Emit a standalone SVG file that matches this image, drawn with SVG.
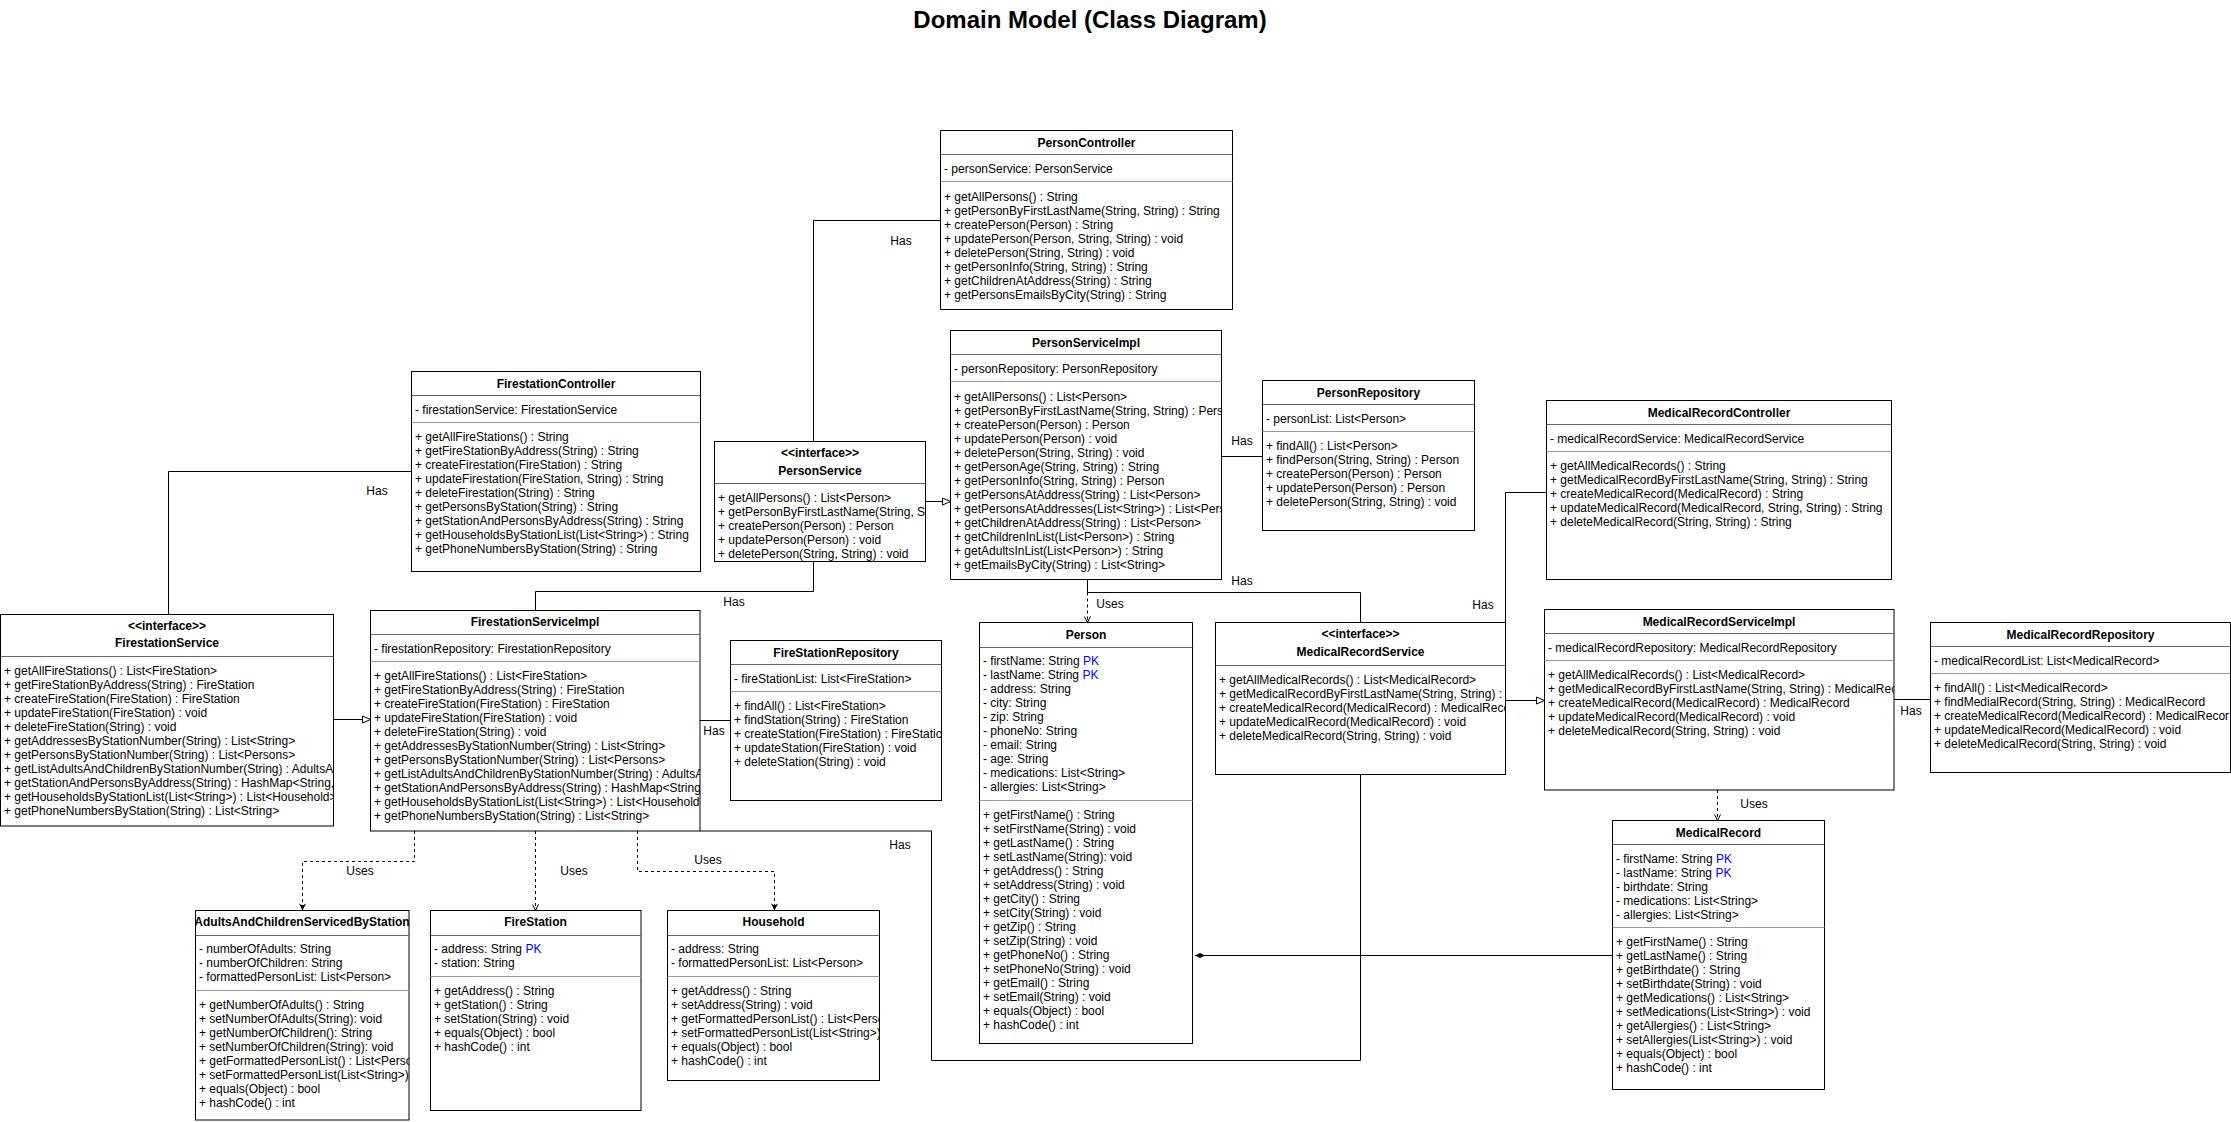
<svg xmlns="http://www.w3.org/2000/svg" width="2231" height="1122" viewBox="0 0 2231 1122">
<style>
.box{fill:#fff;stroke:#000;stroke-width:1}
.hd{stroke:#666;stroke-width:1}
.dv{stroke:#999;stroke-width:1}
text{font-family:"Liberation Sans",Arial,Helvetica,sans-serif;font-size:12px;fill:#000}
.b{font-weight:bold}
.c{text-anchor:middle}
.pk{fill:#0000ff}
.ln{fill:none;stroke:#000;stroke-width:1}
.ds{stroke-dasharray:3 3}
.ttl{font-size:24px;font-weight:bold}
</style>
<defs>
<marker id="tri" markerUnits="userSpaceOnUse" markerWidth="10" markerHeight="10" viewBox="0 0 10 10" refX="9" refY="5" orient="auto"><path d="M1,1.5 L9,5 L1,8.5 z" fill="#fff" stroke="#000" stroke-width="1"/></marker>
<marker id="opn" markerUnits="userSpaceOnUse" markerWidth="10" markerHeight="10" viewBox="0 0 10 10" refX="9" refY="5" orient="auto"><path d="M3,2 L9,5 L3,8" fill="none" stroke="#000" stroke-width="1"/></marker>
<marker id="fil" markerUnits="userSpaceOnUse" markerWidth="10" markerHeight="10" viewBox="0 0 10 10" refX="9" refY="5" orient="auto"><path d="M2,1.5 L9,5 L2,8.5 L4,5 z" fill="#000"/></marker>
<marker id="dia" markerUnits="userSpaceOnUse" markerWidth="12" markerHeight="8" viewBox="0 0 12 8" refX="11" refY="4" orient="auto"><path d="M1,4 L6,1.5 L11,4 L6,6.5 z" fill="#000"/></marker>
<clipPath id="cp1"><rect x="940.5" y="130.5" width="292" height="179"/></clipPath>
<clipPath id="cp2"><rect x="411.5" y="371.5" width="289" height="200"/></clipPath>
<clipPath id="cp3"><rect x="714.5" y="441.5" width="211" height="120"/></clipPath>
<clipPath id="cp4"><rect x="950.5" y="330.5" width="271" height="249"/></clipPath>
<clipPath id="cp5"><rect x="1262.5" y="380.5" width="212" height="150"/></clipPath>
<clipPath id="cp6"><rect x="1546.5" y="400.5" width="345" height="179"/></clipPath>
<clipPath id="cp7"><rect x="0.5" y="614.5" width="333" height="211.5"/></clipPath>
<clipPath id="cp8"><rect x="370.5" y="610.5" width="329.5" height="220.5"/></clipPath>
<clipPath id="cp9"><rect x="730.5" y="640.5" width="211" height="160"/></clipPath>
<clipPath id="cp10"><rect x="979.5" y="622.5" width="213" height="421"/></clipPath>
<clipPath id="cp11"><rect x="1215.5" y="622.5" width="290" height="152"/></clipPath>
<clipPath id="cp12"><rect x="1544.5" y="609.5" width="349.5" height="180.5"/></clipPath>
<clipPath id="cp13"><rect x="1930.5" y="622.5" width="300" height="150"/></clipPath>
<clipPath id="cp14"><rect x="1612.5" y="820.5" width="212" height="269"/></clipPath>
<clipPath id="cp15"><rect x="195.5" y="910.5" width="213.5" height="209.5"/></clipPath>
<clipPath id="cp16"><rect x="430.5" y="910.5" width="210.5" height="200"/></clipPath>
<clipPath id="cp17"><rect x="667.5" y="910.5" width="212" height="170"/></clipPath>
</defs>
<rect x="0" y="0" width="2231" height="1122" fill="#fff"/>
<text class="ttl c" x="1090" y="28">Domain Model (Class Diagram)</text>

<g id="connectors">
<path class="ln" d="M940.5,220.5 H813.5 V441.5"/>
<text class="c" x="901" y="245">Has</text>
<path class="ln" d="M411.5,471.5 H168.5 V614.5"/>
<text class="c" x="377" y="495">Has</text>
<path class="ln" d="M925.5,501.5 H950.5" marker-end="url(#tri)"/>
<path class="ln" d="M334,719.5 H370.5" marker-end="url(#tri)"/>
<path class="ln" d="M813.5,561.5 V591.5 H535.5 V610.5"/>
<text class="c" x="734" y="606">Has</text>
<path class="ln" d="M1221.5,456.5 H1262.5"/>
<text class="c" x="1242" y="445">Has</text>
<path class="ln ds" d="M1087.5,592.5 V622.5" marker-end="url(#opn)"/>
<text class="c" x="1110" y="608">Uses</text>
<path class="ln" d="M1087.5,579.5 V592.5 H1360.5 V622.5"/>
<text class="c" x="1242" y="585">Has</text>
<path class="ln" d="M1546.5,492.5 H1505.5 V622.5"/>
<text class="c" x="1483" y="609">Has</text>
<path class="ln" d="M1505.5,700.5 H1544.5" marker-end="url(#tri)"/>
<path class="ln" d="M1894,699.5 H1930.5"/>
<text class="c" x="1911" y="715">Has</text>
<path class="ln ds" d="M1717.5,790 V820.5" marker-end="url(#opn)"/>
<text class="c" x="1754" y="808">Uses</text>
<path class="ln" d="M1612.5,955.5 H1195" marker-end="url(#dia)"/>
<path class="ln" d="M700,720.5 H730.5"/>
<text class="c" x="714" y="735">Has</text>
<path class="ln ds" d="M414.5,831 V861.5 H302.5 V910.5" marker-end="url(#fil)"/>
<text class="c" x="360" y="875">Uses</text>
<path class="ln ds" d="M535.5,831 V910.5" marker-end="url(#opn)"/>
<text class="c" x="574" y="875">Uses</text>
<path class="ln ds" d="M637.5,831 V871.5 H774.5 V910.5" marker-end="url(#fil)"/>
<text class="c" x="708" y="864">Uses</text>
<path class="ln" d="M700,831 H931.5 V1060.5 H1360.5 V774.5"/>
<text class="c" x="900" y="849">Has</text>
</g>

<g id="PersonController">
<rect class="box" x="940.5" y="130.5" width="292" height="179"/>
<line class="hd" x1="940.5" y1="154.5" x2="1232.5" y2="154.5"/>
<line class="dv" x1="940.5" y1="181.5" x2="1232.5" y2="181.5"/>
<g clip-path="url(#cp1)">
<text class="b c" x="1086.5" y="147">PersonController</text>
<text x="944" y="172.5">- personService: PersonService</text>
<text x="944" y="200.5"><tspan x="944">+ getAllPersons() : String</tspan><tspan x="944" dy="14">+ getPersonByFirstLastName(String, String) : String</tspan><tspan x="944" dy="14">+ createPerson(Person) : String</tspan><tspan x="944" dy="14">+ updatePerson(Person, String, String) : void</tspan><tspan x="944" dy="14">+ deletePerson(String, String) : void</tspan><tspan x="944" dy="14">+ getPersonInfo(String, String) : String</tspan><tspan x="944" dy="14">+ getChildrenAtAddress(String) : String</tspan><tspan x="944" dy="14">+ getPersonsEmailsByCity(String) : String</tspan></text>
</g>
</g>

<g id="FirestationController">
<rect class="box" x="411.5" y="371.5" width="289" height="200"/>
<line class="hd" x1="411.5" y1="395.5" x2="700.5" y2="395.5"/>
<line class="dv" x1="411.5" y1="422.5" x2="700.5" y2="422.5"/>
<g clip-path="url(#cp2)">
<text class="b c" x="556" y="387.5">FirestationController</text>
<text x="415" y="413.5">- firestationService: FirestationService</text>
<text x="415" y="440.5"><tspan x="415">+ getAllFireStations() : String</tspan><tspan x="415" dy="14">+ getFireStationByAddress(String) : String</tspan><tspan x="415" dy="14">+ createFirestation(FireStation) : String</tspan><tspan x="415" dy="14">+ updateFirestation(FireStation, String) : String</tspan><tspan x="415" dy="14">+ deleteFirestation(String) : String</tspan><tspan x="415" dy="14">+ getPersonsByStation(String) : String</tspan><tspan x="415" dy="14">+ getStationAndPersonsByAddress(String) : String</tspan><tspan x="415" dy="14">+ getHouseholdsByStationList(List&lt;String&gt;) : String</tspan><tspan x="415" dy="14">+ getPhoneNumbersByStation(String) : String</tspan></text>
</g>
</g>

<g id="PersonService">
<rect class="box" x="714.5" y="441.5" width="211" height="120"/>
<line class="hd" x1="714.5" y1="483.5" x2="925.5" y2="483.5"/>
<g clip-path="url(#cp3)">
<text class="b c" x="820" y="456.5">&lt;&lt;interface&gt;&gt;</text>
<text class="b c" x="820" y="474.5">PersonService</text>
<text x="718" y="501.5"><tspan x="718">+ getAllPersons() : List&lt;Person&gt;</tspan><tspan x="718" dy="14">+ getPersonByFirstLastName(String, St</tspan><tspan x="718" dy="14">+ createPerson(Person) : Person</tspan><tspan x="718" dy="14">+ updatePerson(Person) : void</tspan><tspan x="718" dy="14">+ deletePerson(String, String) : void</tspan></text>
</g>
</g>

<g id="PersonServiceImpl">
<rect class="box" x="950.5" y="330.5" width="271" height="249"/>
<line class="hd" x1="950.5" y1="354.5" x2="1221.5" y2="354.5"/>
<line class="dv" x1="950.5" y1="381.5" x2="1221.5" y2="381.5"/>
<g clip-path="url(#cp4)">
<text class="b c" x="1086" y="346.5">PersonServiceImpl</text>
<text x="954" y="372.5">- personRepository: PersonRepository</text>
<text x="954" y="400.5"><tspan x="954">+ getAllPersons() : List&lt;Person&gt;</tspan><tspan x="954" dy="14">+ getPersonByFirstLastName(String, String) : Pers</tspan><tspan x="954" dy="14">+ createPerson(Person) : Person</tspan><tspan x="954" dy="14">+ updatePerson(Person) : void</tspan><tspan x="954" dy="14">+ deletePerson(String, String) : void</tspan><tspan x="954" dy="14">+ getPersonAge(String, String) : String</tspan><tspan x="954" dy="14">+ getPersonInfo(String, String) : Person</tspan><tspan x="954" dy="14">+ getPersonsAtAddress(String) : List&lt;Person&gt;</tspan><tspan x="954" dy="14">+ getPersonsAtAddresses(List&lt;String&gt;) : List&lt;Pers</tspan><tspan x="954" dy="14">+ getChildrenAtAddress(String) : List&lt;Person&gt;</tspan><tspan x="954" dy="14">+ getChildrenInList(List&lt;Person&gt;) : String</tspan><tspan x="954" dy="14">+ getAdultsInList(List&lt;Person&gt;) : String</tspan><tspan x="954" dy="14">+ getEmailsByCity(String) : List&lt;String&gt;</tspan></text>
</g>
</g>

<g id="PersonRepository">
<rect class="box" x="1262.5" y="380.5" width="212" height="150"/>
<line class="hd" x1="1262.5" y1="404.5" x2="1474.5" y2="404.5"/>
<line class="dv" x1="1262.5" y1="431.5" x2="1474.5" y2="431.5"/>
<g clip-path="url(#cp5)">
<text class="b c" x="1368.5" y="396.5">PersonRepository</text>
<text x="1266" y="422.5">- personList: List&lt;Person&gt;</text>
<text x="1266" y="449.5"><tspan x="1266">+ findAll() : List&lt;Person&gt;</tspan><tspan x="1266" dy="14">+ findPerson(String, String) : Person</tspan><tspan x="1266" dy="14">+ createPerson(Person) : Person</tspan><tspan x="1266" dy="14">+ updatePerson(Person) : Person</tspan><tspan x="1266" dy="14">+ deletePerson(String, String) : void</tspan></text>
</g>
</g>

<g id="MedicalRecordController">
<rect class="box" x="1546.5" y="400.5" width="345" height="179"/>
<line class="hd" x1="1546.5" y1="424.5" x2="1891.5" y2="424.5"/>
<line class="dv" x1="1546.5" y1="451.5" x2="1891.5" y2="451.5"/>
<g clip-path="url(#cp6)">
<text class="b c" x="1719" y="416.5">MedicalRecordController</text>
<text x="1550" y="442.5">- medicalRecordService: MedicalRecordService</text>
<text x="1550" y="470"><tspan x="1550">+ getAllMedicalRecords() : String</tspan><tspan x="1550" dy="14">+ getMedicalRecordByFirstLastName(String, String) : String</tspan><tspan x="1550" dy="14">+ createMedicalRecord(MedicalRecord) : String</tspan><tspan x="1550" dy="14">+ updateMedicalRecord(MedicalRecord, String, String) : String</tspan><tspan x="1550" dy="14">+ deleteMedicalRecord(String, String) : String</tspan></text>
</g>
</g>

<g id="FirestationService">
<rect class="box" x="0.5" y="614.5" width="333" height="211.5"/>
<line class="hd" x1="0.5" y1="656.5" x2="333.5" y2="656.5"/>
<g clip-path="url(#cp7)">
<text class="b c" x="167" y="629.5">&lt;&lt;interface&gt;&gt;</text>
<text class="b c" x="167" y="647">FirestationService</text>
<text x="4" y="674.5"><tspan x="4">+ getAllFireStations() : List&lt;FireStation&gt;</tspan><tspan x="4" dy="14">+ getFireStationByAddress(String) : FireStation</tspan><tspan x="4" dy="14">+ createFireStation(FireStation) : FireStation</tspan><tspan x="4" dy="14">+ updateFireStation(FireStation) : void</tspan><tspan x="4" dy="14">+ deleteFireStation(String) : void</tspan><tspan x="4" dy="14">+ getAddressesByStationNumber(String) : List&lt;String&gt;</tspan><tspan x="4" dy="14">+ getPersonsByStationNumber(String) : List&lt;Persons&gt;</tspan><tspan x="4" dy="14">+ getListAdultsAndChildrenByStationNumber(String) : AdultsAn</tspan><tspan x="4" dy="14">+ getStationAndPersonsByAddress(String) : HashMap&lt;String,</tspan><tspan x="4" dy="14">+ getHouseholdsByStationList(List&lt;String&gt;) : List&lt;Household&gt;</tspan><tspan x="4" dy="14">+ getPhoneNumbersByStation(String) : List&lt;String&gt;</tspan></text>
</g>
</g>

<g id="FirestationServiceImpl">
<rect class="box" x="370.5" y="610.5" width="329.5" height="220.5"/>
<line class="hd" x1="370.5" y1="634.5" x2="700" y2="634.5"/>
<line class="dv" x1="370.5" y1="661.5" x2="700" y2="661.5"/>
<g clip-path="url(#cp8)">
<text class="b c" x="535" y="626">FirestationServiceImpl</text>
<text x="374" y="652.5">- firestationRepository: FirestationRepository</text>
<text x="374" y="679.5"><tspan x="374">+ getAllFireStations() : List&lt;FireStation&gt;</tspan><tspan x="374" dy="14">+ getFireStationByAddress(String) : FireStation</tspan><tspan x="374" dy="14">+ createFireStation(FireStation) : FireStation</tspan><tspan x="374" dy="14">+ updateFireStation(FireStation) : void</tspan><tspan x="374" dy="14">+ deleteFireStation(String) : void</tspan><tspan x="374" dy="14">+ getAddressesByStationNumber(String) : List&lt;String&gt;</tspan><tspan x="374" dy="14">+ getPersonsByStationNumber(String) : List&lt;Persons&gt;</tspan><tspan x="374" dy="14">+ getListAdultsAndChildrenByStationNumber(String) : AdultsA</tspan><tspan x="374" dy="14">+ getStationAndPersonsByAddress(String) : HashMap&lt;String</tspan><tspan x="374" dy="14">+ getHouseholdsByStationList(List&lt;String&gt;) : List&lt;Household</tspan><tspan x="374" dy="14">+ getPhoneNumbersByStation(String) : List&lt;String&gt;</tspan></text>
</g>
</g>

<g id="FireStationRepository">
<rect class="box" x="730.5" y="640.5" width="211" height="160"/>
<line class="hd" x1="730.5" y1="664.5" x2="941.5" y2="664.5"/>
<line class="dv" x1="730.5" y1="691.5" x2="941.5" y2="691.5"/>
<g clip-path="url(#cp9)">
<text class="b c" x="836" y="656.5">FireStationRepository</text>
<text x="734" y="682.5">- fireStationList: List&lt;FireStation&gt;</text>
<text x="734" y="709.5"><tspan x="734">+ findAll() : List&lt;FireStation&gt;</tspan><tspan x="734" dy="14">+ findStation(String) : FireStation</tspan><tspan x="734" dy="14">+ createStation(FireStation) : FireStatio</tspan><tspan x="734" dy="14">+ updateStation(FireStation) : void</tspan><tspan x="734" dy="14">+ deleteStation(String) : void</tspan></text>
</g>
</g>

<g id="Person">
<rect class="box" x="979.5" y="622.5" width="213" height="421"/>
<line class="hd" x1="979.5" y1="647.5" x2="1192.5" y2="647.5"/>
<line class="dv" x1="979.5" y1="800.5" x2="1192.5" y2="800.5"/>
<g clip-path="url(#cp10)">
<text class="b c" x="1086" y="638.5">Person</text>
<text x="983" y="665"><tspan x="983">- firstName: String <tspan class="pk">PK</tspan></tspan><tspan x="983" dy="14">- lastName: String <tspan class="pk">PK</tspan></tspan><tspan x="983" dy="14">- address: String</tspan><tspan x="983" dy="14">- city: String</tspan><tspan x="983" dy="14">- zip: String</tspan><tspan x="983" dy="14">- phoneNo: String</tspan><tspan x="983" dy="14">- email: String</tspan><tspan x="983" dy="14">- age: String</tspan><tspan x="983" dy="14">- medications: List&lt;String&gt;</tspan><tspan x="983" dy="14">- allergies: List&lt;String&gt;</tspan></text>
<text x="983" y="818.5"><tspan x="983">+ getFirstName() : String</tspan><tspan x="983" dy="14">+ setFirstName(String) : void</tspan><tspan x="983" dy="14">+ getLastName() : String</tspan><tspan x="983" dy="14">+ setLastName(String): void</tspan><tspan x="983" dy="14">+ getAddress() : String</tspan><tspan x="983" dy="14">+ setAddress(String) : void</tspan><tspan x="983" dy="14">+ getCity() : String</tspan><tspan x="983" dy="14">+ setCity(String) : void</tspan><tspan x="983" dy="14">+ getZip() : String</tspan><tspan x="983" dy="14">+ setZip(String) : void</tspan><tspan x="983" dy="14">+ getPhoneNo() : String</tspan><tspan x="983" dy="14">+ setPhoneNo(String) : void</tspan><tspan x="983" dy="14">+ getEmail() : String</tspan><tspan x="983" dy="14">+ setEmail(String) : void</tspan><tspan x="983" dy="14">+ equals(Object) : bool</tspan><tspan x="983" dy="14">+ hashCode() : int</tspan></text>
</g>
</g>

<g id="MedicalRecordService">
<rect class="box" x="1215.5" y="622.5" width="290" height="152"/>
<line class="hd" x1="1215.5" y1="665.5" x2="1505.5" y2="665.5"/>
<g clip-path="url(#cp11)">
<text class="b c" x="1360.5" y="637.5">&lt;&lt;interface&gt;&gt;</text>
<text class="b c" x="1360.5" y="655.5">MedicalRecordService</text>
<text x="1219" y="683.5"><tspan x="1219">+ getAllMedicalRecords() : List&lt;MedicalRecord&gt;</tspan><tspan x="1219" dy="14">+ getMedicalRecordByFirstLastName(String, String) : M</tspan><tspan x="1219" dy="14">+ createMedicalRecord(MedicalRecord) : MedicalReco</tspan><tspan x="1219" dy="14">+ updateMedicalRecord(MedicalRecord) : void</tspan><tspan x="1219" dy="14">+ deleteMedicalRecord(String, String) : void</tspan></text>
</g>
</g>

<g id="MedicalRecordServiceImpl">
<rect class="box" x="1544.5" y="609.5" width="349.5" height="180.5"/>
<line class="hd" x1="1544.5" y1="633.5" x2="1894" y2="633.5"/>
<line class="dv" x1="1544.5" y1="660.5" x2="1894" y2="660.5"/>
<g clip-path="url(#cp12)">
<text class="b c" x="1719" y="625.5">MedicalRecordServiceImpl</text>
<text x="1548" y="651.5">- medicalRecordRepository: MedicalRecordRepository</text>
<text x="1548" y="678.5"><tspan x="1548">+ getAllMedicalRecords() : List&lt;MedicalRecord&gt;</tspan><tspan x="1548" dy="14">+ getMedicalRecordByFirstLastName(String, String) : MedicalRec</tspan><tspan x="1548" dy="14">+ createMedicalRecord(MedicalRecord) : MedicalRecord</tspan><tspan x="1548" dy="14">+ updateMedicalRecord(MedicalRecord) : void</tspan><tspan x="1548" dy="14">+ deleteMedicalRecord(String, String) : void</tspan></text>
</g>
</g>

<g id="MedicalRecordRepository">
<rect class="box" x="1930.5" y="622.5" width="300" height="150"/>
<line class="hd" x1="1930.5" y1="646.5" x2="2230.5" y2="646.5"/>
<line class="dv" x1="1930.5" y1="673.5" x2="2230.5" y2="673.5"/>
<g clip-path="url(#cp13)">
<text class="b c" x="2080.5" y="638.5">MedicalRecordRepository</text>
<text x="1934" y="664.5">- medicalRecordList: List&lt;MedicalRecord&gt;</text>
<text x="1934" y="691.5"><tspan x="1934">+ findAll() : List&lt;MedicalRecord&gt;</tspan><tspan x="1934" dy="14">+ findMedialRecord(String, String) : MedicalRecord</tspan><tspan x="1934" dy="14">+ createMedicalRecord(MedicalRecord) : MedicalRecor</tspan><tspan x="1934" dy="14">+ updateMedicalRecord(MedicalRecord) : void</tspan><tspan x="1934" dy="14">+ deleteMedicalRecord(String, String) : void</tspan></text>
</g>
</g>

<g id="MedicalRecord">
<rect class="box" x="1612.5" y="820.5" width="212" height="269"/>
<line class="hd" x1="1612.5" y1="844.5" x2="1824.5" y2="844.5"/>
<line class="dv" x1="1612.5" y1="927.5" x2="1824.5" y2="927.5"/>
<g clip-path="url(#cp14)">
<text class="b c" x="1718.5" y="836.5">MedicalRecord</text>
<text x="1616" y="862.5"><tspan x="1616">- firstName: String <tspan class="pk">PK</tspan></tspan><tspan x="1616" dy="14">- lastName: String <tspan class="pk">PK</tspan></tspan><tspan x="1616" dy="14">- birthdate: String</tspan><tspan x="1616" dy="14">- medications: List&lt;String&gt;</tspan><tspan x="1616" dy="14">- allergies: List&lt;String&gt;</tspan></text>
<text x="1616" y="946"><tspan x="1616">+ getFirstName() : String</tspan><tspan x="1616" dy="14">+ getLastName() : String</tspan><tspan x="1616" dy="14">+ getBirthdate() : String</tspan><tspan x="1616" dy="14">+ setBirthdate(String) : void</tspan><tspan x="1616" dy="14">+ getMedications() : List&lt;String&gt;</tspan><tspan x="1616" dy="14">+ setMedications(List&lt;String&gt;) : void</tspan><tspan x="1616" dy="14">+ getAllergies() : List&lt;String&gt;</tspan><tspan x="1616" dy="14">+ setAllergies(List&lt;String&gt;) : void</tspan><tspan x="1616" dy="14">+ equals(Object) : bool</tspan><tspan x="1616" dy="14">+ hashCode() : int</tspan></text>
</g>
</g>

<g id="AdultsAndChildrenServicedByStation">
<rect class="box" x="195.5" y="910.5" width="213.5" height="209.5"/>
<line class="hd" x1="195.5" y1="935.5" x2="409" y2="935.5"/>
<line class="dv" x1="195.5" y1="990.5" x2="409" y2="990.5"/>
<g clip-path="url(#cp15)">
<text class="b c" x="302" y="926">AdultsAndChildrenServicedByStation</text>
<text x="199" y="953"><tspan x="199">- numberOfAdults: String</tspan><tspan x="199" dy="14">- numberOfChildren: String</tspan><tspan x="199" dy="14">- formattedPersonList: List&lt;Person&gt;</tspan></text>
<text x="199" y="1008.5"><tspan x="199">+ getNumberOfAdults() : String</tspan><tspan x="199" dy="14">+ setNumberOfAdults(String): void</tspan><tspan x="199" dy="14">+ getNumberOfChildren(): String</tspan><tspan x="199" dy="14">+ setNumberOfChildren(String): void</tspan><tspan x="199" dy="14">+ getFormattedPersonList() : List&lt;Perso</tspan><tspan x="199" dy="14">+ setFormattedPersonList(List&lt;String&gt;)</tspan><tspan x="199" dy="14">+ equals(Object) : bool</tspan><tspan x="199" dy="14">+ hashCode() : int</tspan></text>
</g>
</g>

<g id="FireStation">
<rect class="box" x="430.5" y="910.5" width="210.5" height="200"/>
<line class="hd" x1="430.5" y1="935.5" x2="641" y2="935.5"/>
<line class="dv" x1="430.5" y1="976.5" x2="641" y2="976.5"/>
<g clip-path="url(#cp16)">
<text class="b c" x="535.5" y="926">FireStation</text>
<text x="434" y="953"><tspan x="434">- address: String <tspan class="pk">PK</tspan></tspan><tspan x="434" dy="14">- station: String</tspan></text>
<text x="434" y="994.5"><tspan x="434">+ getAddress() : String</tspan><tspan x="434" dy="14">+ getStation() : String</tspan><tspan x="434" dy="14">+ setStation(String) : void</tspan><tspan x="434" dy="14">+ equals(Object) : bool</tspan><tspan x="434" dy="14">+ hashCode() : int</tspan></text>
</g>
</g>

<g id="Household">
<rect class="box" x="667.5" y="910.5" width="212" height="170"/>
<line class="hd" x1="667.5" y1="935.5" x2="879.5" y2="935.5"/>
<line class="dv" x1="667.5" y1="976.5" x2="879.5" y2="976.5"/>
<g clip-path="url(#cp17)">
<text class="b c" x="773.5" y="926">Household</text>
<text x="671" y="953"><tspan x="671">- address: String</tspan><tspan x="671" dy="14">- formattedPersonList: List&lt;Person&gt;</tspan></text>
<text x="671" y="994.5"><tspan x="671">+ getAddress() : String</tspan><tspan x="671" dy="14">+ setAddress(String) : void</tspan><tspan x="671" dy="14">+ getFormattedPersonList() : List&lt;Perso</tspan><tspan x="671" dy="14">+ setFormattedPersonList(List&lt;String&gt;)</tspan><tspan x="671" dy="14">+ equals(Object) : bool</tspan><tspan x="671" dy="14">+ hashCode() : int</tspan></text>
</g>
</g>
</svg>
